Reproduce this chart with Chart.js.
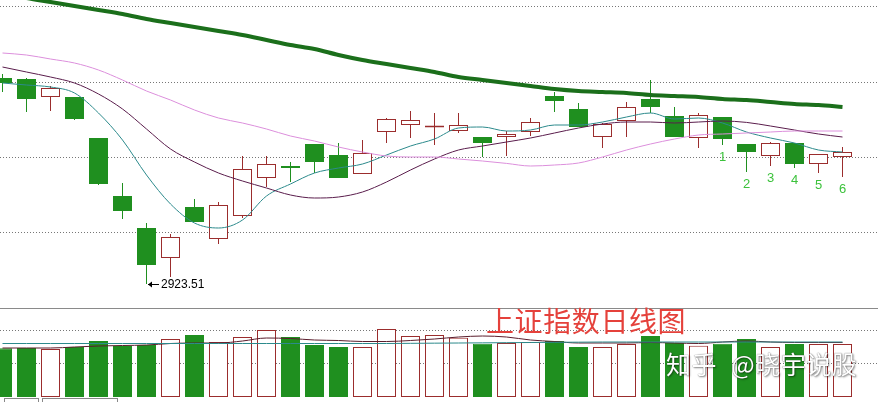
<!DOCTYPE html>
<html>
<head>
<meta charset="utf-8">
<script src="https://cdn.jsdelivr.net/npm/chart.js@4.4.0/dist/chart.umd.min.js"></script>
<style>
  html, body { margin: 0; padding: 0; background: #fff; }
  #wrap { position: relative; width: 878px; height: 402px; overflow: hidden; background: #fff; }
  #c-price { position: absolute; left: 0; top: 0; }
  #c-vol { position: absolute; left: 0; top: 308px; }
  .title { position: absolute; left: 486px; top: 300px; font-size: 28px; font-family: "Noto Sans CJK SC", sans-serif; color: #e5413b; letter-spacing: 0.6px; white-space: nowrap; }
  .mark { position: absolute; left: 666px; top: 345px; font-size: 25px; font-family: "Noto Sans CJK SC", sans-serif; color: #fff; letter-spacing: 0.5px; white-space: nowrap; text-shadow: 0 0 1px rgba(0,0,0,.7), 1px 1px 2px rgba(0,0,0,.45); }
  .mark span { margin-left: 14px; }
  .tab { position: absolute; top: 398px; height: 8px; border: 1px solid #888; }
</style>
</head>
<body>
<div id="wrap">
  <canvas id="c-price" width="878" height="308"></canvas>
  <canvas id="c-vol" width="878" height="94"></canvas>
  <div class="title">上证指数日线图</div>
  <div class="mark">知乎<span>@晓宇说股</span></div>
  <div class="tab" style="left:4px;width:33px"></div>
  <div class="tab" style="left:42px;width:74px"></div>
</div>
<script>
const opens  = [3026.5, 3026, 3017, 3017, 2996.5, 2967.5, 2951.5, 2936.5, 2962, 2946, 2957.5, 2976.5, 2982, 2993.5, 2988, 2978.5, 2999.5, 3003, 3001.8, 3000, 2997, 2997, 2999.5, 3017.5, 3011, 2997, 3005, 3016, 3007.5, 2996.5, 3007, 2993.5, 2987.5, 2994, 2983.5, 2987];
const highs  = [3028.5, 3026.5, 3022.5, 3017, 2996.5, 2974, 2954, 2948.5, 2966, 2964.5, 2987.5, 2987.5, 2984.5, 2993.5, 2994, 2995.5, 3006.5, 3010, 3009, 3009, 2997, 3000, 3006.5, 3019.5, 3014, 3004, 3014.5, 3025.5, 3012, 3009, 3007, 2993.5, 2994.5, 2994, 2988.5, 2992];
const lows   = [3019.5, 3009.5, 3010, 3005.5, 2973, 2956, 2923.51, 2927, 2954.5, 2943.5, 2956.5, 2972, 2974.5, 2979, 2976.5, 2978.5, 2994, 2996.5, 2993, 2999, 2987, 2987.5, 2997.5, 3009.5, 3002, 2991.5, 2997, 3009, 2997, 2991.5, 2993, 2979.5, 2982.5, 2981.5, 2979, 2977];
const closes = [3024, 3016, 3021.5, 3006, 2973.5, 2960, 2933, 2947, 2954.5, 2963, 2981, 2983.5, 2981.5, 2984.5, 2976.5, 2989, 3006, 3005.5, 3002.2, 3003, 2994, 2998.5, 3004.5, 3015, 3002, 3003.5, 3012, 3012, 2997, 3008, 2996, 2989.5, 2994, 2983.5, 2988.5, 2989.5];

const ma5  = [3024, 3023, 3022, 3019, 3009, 2995.5, 2978, 2963.5, 2954, 2951.5, 2955.5, 2967.5, 2973.5, 2979, 2981.5, 2983.5, 2988, 2992.5, 2996, 3001.5, 3002, 3000, 3000.5, 3003, 3003, 3004.5, 3007, 3009, 3006, 3006.5, 3004, 2999.5, 2996.5, 2994, 2990.5, 2989.5];
const ma10 = [3032, 3029.5, 3027, 3024, 3018.5, 3011, 3001, 2991, 2984.5, 2979, 2975, 2971.5, 2968, 2966.5, 2967, 2969.5, 2974.5, 2980.5, 2986, 2990.5, 2992.5, 2994.5, 2996.5, 2999, 3001.5, 3003.5, 3004.5, 3004.5, 3004, 3004.5, 3005, 3004.3, 3002.5, 3000.5, 2998.5, 2997];
const ma20 = [3039, 3038, 3036, 3034, 3030.5, 3025.5, 3020, 3015.5, 3010.5, 3006.5, 3004, 3001, 2997.5, 2995, 2992, 2989.5, 2987.5, 2987, 2987, 2986, 2985, 2983.8, 2982.5, 2983, 2984, 2987, 2990.5, 2993.5, 2996, 2998, 2998.5, 2999, 2999.5, 3000, 3000, 3000];
const ma60 = [3069, 3066.5, 3064.5, 3062.5, 3060.5, 3058.5, 3056, 3054, 3052, 3050, 3048, 3045.5, 3043, 3041, 3038, 3035.5, 3033.5, 3031.5, 3029.5, 3027, 3025.5, 3024, 3022.5, 3021, 3020, 3019.5, 3019, 3018, 3017.5, 3017, 3016, 3015.5, 3014.5, 3013.5, 3013, 3012];

const volumes = [1460, 1470, 1440, 1500, 1680, 1530, 1560, 1740, 1860, 1650, 1800, 2010, 1800, 1560, 1500, 1500, 2040, 1830, 1860, 1780, 1600, 1620, 1650, 1680, 1500, 1500, 1590, 1830, 1620, 1540, 1600, 1740, 1500, 1590, 1590, 1590];
const volMa5  = [1605, 1605, 1605, 1605, 1605, 1605, 1605, 1605, 1605, 1605, 1605, 1605, 1605, 1605, 1605, 1605, 1605, 1610, 1615, 1620, 1625, 1630, 1635, 1640, 1645, 1650, 1650, 1650, 1650, 1650, 1650, 1650, 1650, 1650, 1650, 1650];
const volMa10 = [1470, 1470, 1470, 1500, 1530, 1545, 1560, 1605, 1620, 1620, 1680, 1770, 1755, 1710, 1695, 1665, 1665, 1695, 1740, 1800, 1830, 1800, 1710, 1665, 1620, 1620, 1620, 1635, 1620, 1605, 1650, 1680, 1650, 1635, 1635, 1635];

const priceGrid = [2949.5, 2987, 3024.5, 3062];
const volGrid = [1000, 2000];
const markLabels = ["1", "2", "3", "4", "5", "6"];
const markFrom = 30;

const UP = "#9b2d2d";
const DOWN = "#1f8f1f";
const SLOT = 24;
const X_MIN = -2.5 / SLOT;
const X_MAX = X_MIN + 878 / SLOT;

const isUp = closes.map((c, i) => c >= opens[i]);
const pts = (arr) => arr.map((v, i) => ({ x: i, y: v }));

function xAxis() {
  return { type: "linear", min: X_MIN, max: X_MAX, offset: false, display: false };
}

const priceNotes = {
  id: "priceNotes",
  afterDatasetsDraw(chart) {
    const { ctx, scales: { x, y } } = chart;
    ctx.save();
    let lowIdx = 0;
    lows.forEach((v, i) => { if (v < lows[lowIdx]) lowIdx = i; });
    const lx = Math.round(x.getPixelForValue(lowIdx)) + 1;
    const ly = Math.round(y.getPixelForValue(lows[lowIdx])) + 0.5;
    ctx.strokeStyle = "#000";
    ctx.fillStyle = "#000";
    ctx.lineWidth = 1;
    ctx.beginPath();
    ctx.moveTo(lx, ly);
    ctx.lineTo(lx + 11, ly);
    ctx.stroke();
    ctx.beginPath();
    ctx.moveTo(lx, ly);
    ctx.lineTo(lx + 4, ly - 3);
    ctx.lineTo(lx + 4, ly + 3);
    ctx.closePath();
    ctx.fill();
    ctx.font = "12px 'Liberation Sans', Arial, sans-serif";
    ctx.textBaseline = "middle";
    ctx.textAlign = "left";
    ctx.fillText(lows[lowIdx].toFixed(2), lx + 13, ly);

    ctx.fillStyle = "#3cc23c";
    ctx.font = "13px 'Liberation Sans', Arial, sans-serif";
    ctx.textAlign = "center";
    markLabels.forEach((label, k) => {
      const i = markFrom + k;
      ctx.fillText(label, x.getPixelForValue(i), y.getPixelForValue(lows[i]) + 12);
    });
    ctx.restore();
  }
};

const volFrame = {
  id: "volFrame",
  afterDraw(chart) {
    const { ctx } = chart;
    ctx.save();
    ctx.strokeStyle = "#8a8a8a";
    ctx.lineWidth = 1;
    ctx.beginPath();
    ctx.moveTo(0, 0.5);
    ctx.lineTo(chart.width, 0.5);
    ctx.stroke();
    ctx.restore();
  }
};

new Chart(document.getElementById("c-price"), {
  type: "bar",
  data: {
    datasets: [
      { type: "line", data: pts(ma60), borderColor: "#1b6f1b", borderWidth: 4, pointRadius: 0, cubicInterpolationMode: "monotone", order: 1 },
      { type: "line", data: pts(ma20), borderColor: "#dc8fdc", borderWidth: 1, pointRadius: 0, cubicInterpolationMode: "monotone", order: 1 },
      { type: "line", data: pts(ma10), borderColor: "#5a1d4c", borderWidth: 1, pointRadius: 0, cubicInterpolationMode: "monotone", order: 1 },
      { type: "line", data: pts(ma5), borderColor: "#2c8a8c", borderWidth: 1, pointRadius: 0, cubicInterpolationMode: "monotone", order: 1 },
      {
        data: opens.map((o, i) => ({ x: i, y: [Math.min(o, closes[i]), Math.max(o, closes[i])] })),
        backgroundColor: isUp.map((u) => u ? "#fff" : DOWN),
        borderColor: isUp.map((u) => u ? UP : DOWN),
        borderWidth: 1, borderSkipped: false, barThickness: 19, minBarLength: 2,
        grouped: false, inflateAmount: 0, order: 2
      },
      {
        data: highs.map((h, i) => ({ x: i, y: [lows[i], h] })),
        backgroundColor: isUp.map((u) => u ? UP : DOWN),
        borderWidth: 0, barThickness: 1, grouped: false, inflateAmount: 0, order: 3
      }
    ]
  },
  options: {
    responsive: false,
    animation: false,
    layout: { padding: 0 },
    plugins: { legend: { display: false }, tooltip: { enabled: false } },
    scales: {
      x: xAxis(),
      y: {
        min: 2911.5, max: 3065.5,
        afterFit: (axis) => { axis.width = 0; },
        afterBuildTicks: (axis) => { axis.ticks = priceGrid.map((value) => ({ value })); },
        ticks: { display: false },
        grid: { color: "#777", lineWidth: 1, drawTicks: false },
        border: { display: false, dash: [1, 2] }
      }
    }
  },
  plugins: [priceNotes]
});

new Chart(document.getElementById("c-vol"), {
  type: "bar",
  data: {
    datasets: [
      { type: "line", data: pts(volMa5), borderColor: "#2c8a8c", borderWidth: 1, pointRadius: 0, cubicInterpolationMode: "monotone", order: 1 },
      { type: "line", data: pts(volMa10), borderColor: "#5a1d2c", borderWidth: 1, pointRadius: 0, cubicInterpolationMode: "monotone", order: 1 },
      {
        data: pts(volumes),
        backgroundColor: isUp.map((u) => u ? "#fff" : DOWN),
        borderColor: isUp.map((u) => u ? UP : DOWN),
        borderWidth: 1, borderSkipped: false, barThickness: 19,
        grouped: false, inflateAmount: 0, order: 2
      }
    ]
  },
  options: {
    responsive: false,
    animation: false,
    layout: { padding: { bottom: 5 } },
    plugins: { legend: { display: false }, tooltip: { enabled: false } },
    scales: {
      x: xAxis(),
      y: {
        min: 0, max: 2670,
        afterFit: (axis) => { axis.width = 0; },
        afterBuildTicks: (axis) => { axis.ticks = volGrid.map((value) => ({ value })); },
        ticks: { display: false },
        grid: { color: "#777", lineWidth: 1, drawTicks: false },
        border: { display: false, dash: [1, 2] }
      }
    }
  },
  plugins: [volFrame]
});
</script>
</body>
</html>
